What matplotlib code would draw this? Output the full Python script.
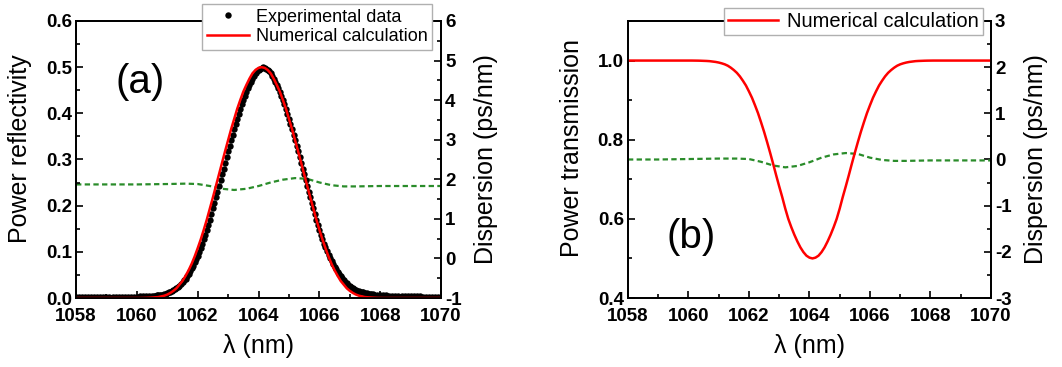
import matplotlib
matplotlib.use("Agg")
import matplotlib.pyplot as plt
import numpy as np
from matplotlib.ticker import MultipleLocator, FormatStrFormatter

plt.rcParams['font.family'] = ['Liberation Sans', 'DejaVu Sans']
plt.rcParams['axes.unicode_minus'] = False

# ---- measured reflectivity (tails every 0.1 nm, core every 0.05 nm)
exp_wl = np.concatenate([
    np.linspace(1058.0, 1060.4, 25),
    np.linspace(1060.5, 1067.8, 147),
    np.linspace(1067.9, 1070.0, 22),
])
exp_refl = [
    0.002, 0.002, 0.002, 0.002, 0.002, 0.0022, 0.0022, 0.0023, 0.0024, 0.0025,
    0.0025, 0.0025, 0.0026, 0.0026, 0.0027, 0.0028, 0.0028, 0.0029, 0.003, 0.003,
    0.0031, 0.0033, 0.0035, 0.0037, 0.004,
    # core
    0.0042, 0.0045, 0.005, 0.0055, 0.006, 0.0065, 0.007, 0.0075, 0.0085, 0.0095,
    0.011, 0.012, 0.013, 0.015, 0.017, 0.019, 0.021, 0.024, 0.027, 0.030,
    0.034, 0.038, 0.042, 0.047, 0.052, 0.058, 0.064, 0.070, 0.077, 0.084,
    0.092, 0.100, 0.109, 0.1175, 0.127, 0.1375, 0.148, 0.159, 0.170, 0.182,
    0.194, 0.206, 0.218, 0.2305, 0.243, 0.2555, 0.268, 0.2805, 0.293, 0.3055,
    0.318, 0.330, 0.342, 0.354, 0.366, 0.377, 0.388, 0.399, 0.410, 0.4195,
    0.429, 0.438, 0.447, 0.4545, 0.4615, 0.468, 0.475, 0.4812, 0.4866, 0.4907,
    0.494, 0.4966, 0.4985,
    0.500,
    0.4985, 0.4966, 0.494, 0.4907, 0.4866, 0.4812, 0.475, 0.468, 0.4615, 0.4545,
    0.447, 0.438, 0.429, 0.4195, 0.410, 0.399, 0.388, 0.377, 0.366, 0.354,
    0.342, 0.330, 0.318, 0.3055, 0.293, 0.2805, 0.268, 0.2555, 0.243, 0.2305,
    0.218, 0.206, 0.194, 0.182, 0.170, 0.159, 0.148, 0.1375, 0.127, 0.118,
    0.110, 0.102, 0.094, 0.087, 0.080, 0.074, 0.068, 0.062, 0.057, 0.052,
    0.047, 0.043, 0.039, 0.035, 0.032, 0.029, 0.026, 0.024, 0.022, 0.020,
    0.018, 0.016, 0.015, 0.014, 0.013, 0.012, 0.011, 0.010, 0.0095, 0.009,
    0.0085, 0.008, 0.0075,
    # right tail
    0.007, 0.0065, 0.006, 0.0056, 0.0052, 0.005, 0.0047, 0.0044, 0.0042, 0.004,
    0.0038, 0.0036, 0.0035, 0.0034, 0.0033, 0.0032, 0.0031, 0.003, 0.003, 0.0029,
    0.0028, 0.0028,
]

# ---- calculated reflectivity / transmission, 0.1 nm grid around 1064.1 nm
calc_wl = np.concatenate([[1058.0], np.linspace(1060.1, 1068.1, 81), [1070.0]])
calc_refl = [
    0.0,
    0.0, 0.0001, 0.0003, 0.0006, 0.001, 0.0015, 0.002, 0.0035, 0.005, 0.0075,
    0.011, 0.0155, 0.021, 0.029, 0.037, 0.048, 0.060, 0.074, 0.090, 0.108,
    0.127, 0.148, 0.170, 0.194, 0.218, 0.243, 0.268, 0.293, 0.318, 0.342,
    0.366, 0.388, 0.410, 0.429, 0.447, 0.4615, 0.475, 0.4866, 0.494, 0.4985,
    0.500,
    0.4985, 0.494, 0.4866, 0.475, 0.4615, 0.447, 0.429, 0.410, 0.388, 0.366,
    0.342, 0.318, 0.293, 0.268, 0.243, 0.218, 0.194, 0.170, 0.148, 0.127,
    0.108, 0.090, 0.074, 0.060, 0.048, 0.037, 0.029, 0.021, 0.0155, 0.011,
    0.0075, 0.005, 0.0035, 0.002, 0.0015, 0.001, 0.0006, 0.0003, 0.0001, 0.0,
    0.0,
]
calc_trans = [
    1.0,
    1.0, 0.9999, 0.9998, 0.9996, 0.9993, 0.999, 0.9985, 0.9975, 0.9965, 0.995,
    0.993, 0.9905, 0.987, 0.982, 0.976, 0.969, 0.960, 0.949, 0.937, 0.922,
    0.906, 0.887, 0.867, 0.844, 0.820, 0.794, 0.767, 0.739, 0.710, 0.682,
    0.655, 0.626, 0.600, 0.579, 0.560, 0.543, 0.528, 0.516, 0.507, 0.502,
    0.500,
    0.502, 0.507, 0.516, 0.528, 0.543, 0.560, 0.579, 0.600, 0.626, 0.655,
    0.682, 0.710, 0.739, 0.767, 0.794, 0.820, 0.844, 0.867, 0.887, 0.906,
    0.922, 0.937, 0.949, 0.960, 0.969, 0.976, 0.982, 0.987, 0.9905, 0.993,
    0.995, 0.9965, 0.9975, 0.9985, 0.999, 0.9993, 0.9996, 0.9998, 0.9999, 1.0,
    1.0,
]

# ---- group-delay dispersion (ps/nm)
disp_wl = [1058, 1059, 1060, 1061, 1061.6, 1062.0, 1062.4, 1062.8, 1063.2, 1063.6,
           1064.0, 1064.4, 1064.8, 1065.2, 1065.6, 1066.0, 1066.4, 1066.8, 1067.2,
           1068, 1069, 1070]
disp_refl = [1.87, 1.87, 1.87, 1.88, 1.89, 1.88, 1.83, 1.76, 1.73, 1.76,
             1.83, 1.92, 1.99, 2.03, 2.01, 1.92, 1.85, 1.82, 1.82,
             1.83, 1.83, 1.83]
disp_trans = [0.0, 0.0, 0.01, 0.02, 0.02, 0.01, -0.05, -0.13, -0.17, -0.14,
              -0.06, 0.04, 0.11, 0.14, 0.12, 0.04, -0.01, -0.03, -0.03,
              -0.02, -0.02, -0.02]

RED = '#ff0000'
GREEN = '#2a8c2a'
TICK_FS = 13.5
LABEL_FS = 18


def style_axis(ax, side):
    ax.tick_params(which='both', direction='in', width=1.2, labelsize=TICK_FS,
                   top=False)
    ax.tick_params(axis='y', pad=3)
    ax.tick_params(axis='x', pad=7)
    ax.tick_params(which='major', length=5)
    ax.tick_params(which='minor', length=3)
    if side == 'left':
        ax.tick_params(right=False, which='both')
    for s in ax.spines.values():
        s.set_linewidth(1.3)
    for t in ax.get_xticklabels() + ax.get_yticklabels():
        t.set_fontweight('bold')


fig = plt.figure(figsize=(10.62, 3.67), dpi=100)

# (a) reflection
ax1 = fig.add_axes([0.0716, 0.188, 0.3437, 0.7548])
ax1r = ax1.twinx()
ax1.set_zorder(ax1r.get_zorder() + 1)
ax1.patch.set_visible(False)

ax1r.plot(disp_wl, disp_refl, color=GREEN, lw=1.6, dashes=(2.4, 1.5))
ax1.plot(exp_wl, exp_refl, 'o', color='black', ms=4.6, mew=0,
         label='Experimental data')
ax1.plot(calc_wl, calc_refl, color=RED, lw=1.8, label='Numerical calculation')

ax1.set_xlim(1058, 1070)
ax1.set_ylim(0, 0.6)
ax1r.set_ylim(-1, 6)
ax1.xaxis.set_major_locator(MultipleLocator(2))
ax1.xaxis.set_minor_locator(MultipleLocator(1))
ax1.yaxis.set_major_locator(MultipleLocator(0.1))
ax1.yaxis.set_minor_locator(MultipleLocator(0.05))
ax1.yaxis.set_major_formatter(FormatStrFormatter('%.1f'))
ax1r.yaxis.set_major_locator(MultipleLocator(1))
ax1r.yaxis.set_minor_locator(MultipleLocator(0.5))
style_axis(ax1, 'left')
style_axis(ax1r, 'right')
ax1.set_xlabel('λ (nm)', fontsize=LABEL_FS, labelpad=7)
ax1.set_ylabel('Power reflectivity', fontsize=LABEL_FS, labelpad=10)
ax1.yaxis.label.set_y(0.54)
ax1r.set_ylabel('Dispersion (ps/nm)', fontsize=LABEL_FS, labelpad=8.5)
ax1.text(1060.1, 0.467, '(a)', fontsize=29, ha='center', va='center')
ax1.legend(loc='upper right', bbox_to_anchor=(0.4068, 0.989),
           bbox_transform=fig.transFigure, fontsize=13, frameon=True,
           fancybox=False, edgecolor='#b0b0b0', framealpha=1,
           borderaxespad=0, borderpad=0.25, handlelength=2.3,
           handletextpad=0.4, labelspacing=0.15, numpoints=1)

# (b) transmission
ax2 = fig.add_axes([0.5913, 0.188, 0.3418, 0.7548])
ax2r = ax2.twinx()
ax2.set_zorder(ax2r.get_zorder() + 1)
ax2.patch.set_visible(False)

ax2r.plot(disp_wl, disp_trans, color=GREEN, lw=1.6, dashes=(2.4, 1.5))
ax2.plot(calc_wl, calc_trans, color=RED, lw=1.8, label='Numerical calculation')

ax2.set_xlim(1058, 1070)
ax2.set_ylim(0.4, 1.1)
ax2r.set_ylim(-3, 3)
ax2.xaxis.set_major_locator(MultipleLocator(2))
ax2.xaxis.set_minor_locator(MultipleLocator(1))
ax2.yaxis.set_major_locator(MultipleLocator(0.2))
ax2.yaxis.set_minor_locator(MultipleLocator(0.1))
ax2.yaxis.set_major_formatter(FormatStrFormatter('%.1f'))
ax2r.yaxis.set_major_locator(MultipleLocator(1))
ax2r.yaxis.set_minor_locator(MultipleLocator(0.5))
style_axis(ax2, 'left')
style_axis(ax2r, 'right')
ax2.set_xlabel('λ (nm)', fontsize=LABEL_FS, labelpad=7)
ax2.set_ylabel('Power transmission', fontsize=LABEL_FS, labelpad=10)
ax2.yaxis.label.set_y(0.54)
ax2r.set_ylabel('Dispersion (ps/nm)', fontsize=LABEL_FS, labelpad=8.5)
ax2.text(1060.1, 0.554, '(b)', fontsize=29, ha='center', va='center')
ax2.legend(loc='upper right', bbox_to_anchor=(0.9256, 0.978),
           bbox_transform=fig.transFigure, fontsize=14.5, frameon=True,
           fancybox=False, edgecolor='#b0b0b0', framealpha=1,
           borderaxespad=0, borderpad=0.2, handlelength=2.5,
           handletextpad=0.45)

fig.savefig('out.png', dpi=100)
